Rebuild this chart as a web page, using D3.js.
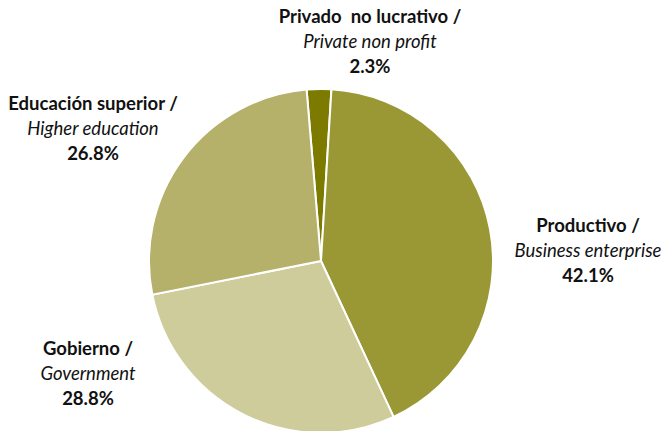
<!DOCTYPE html>
<html>
<head>
<meta charset="utf-8">
<script src="https://cdn.jsdelivr.net/npm/d3@7"></script>
<style>
  body { margin: 0; background: #fff; }
  .lbl { font-family: Lato, "Open Sans", sans-serif; font-size: 18.5px; fill: #111; }
</style>
</head>
<body>
<div id="chart"></div>
<script>
// data, clockwise from the top
var categories = ["Privado  no lucrativo /", "Productivo /", "Gobierno /", "Educación superior /"];
var subLabels = ["Private non profit", "Business enterprise", "Government", "Higher education"];
var values = [2.3, 42.1, 28.8, 26.8];
var colors = ["#7d7a00", "#9a9834", "#cfcc9b", "#b5b06a"];

var width = 665, height = 431;
var cx = 321, cy = 261, radius = 172;

var svg = d3.select("#chart").append("svg")
    .attr("width", width)
    .attr("height", height);

var g = svg.append("g")
    .attr("transform", "translate(" + cx + "," + cy + ")");

var startAngle = -values[0] / 100 * Math.PI * 2 * 0.58;

var pie = d3.pie()
    .sort(null)
    .startAngle(startAngle)
    .endAngle(startAngle + Math.PI * 2)
    .value(function(d){ return d; });

var arc = d3.arc()
    .innerRadius(0)
    .outerRadius(radius);

g.selectAll(".slice")
    .data(pie(values))
    .enter().append("path")
    .attr("class", "slice")
    .attr("d", arc)
    .style("fill", function(d, i){ return colors[i]; })
    .style("stroke", "#fff")
    .style("stroke-width", 2);

// label anchors (centre x, first baseline)
var labelPos = [[370, 23], [588, 232], [88, 355], [93, 110]];

var labels = svg.selectAll(".lbl")
    .data(values)
    .enter().append("text")
    .attr("class", "lbl")
    .attr("text-anchor", "middle")
    .attr("x", function(d, i){ return labelPos[i][0]; })
    .attr("y", function(d, i){ return labelPos[i][1]; });

labels.append("tspan")
    .attr("x", function(d, i){ return labelPos[i][0]; })
    .style("font-weight", "bold")
    .style("white-space", "pre")
    .text(function(d, i){ return categories[i]; });
labels.append("tspan")
    .attr("x", function(d, i){ return labelPos[i][0]; })
    .attr("dy", 25)
    .style("font-style", "italic")
    .text(function(d, i){ return subLabels[i]; });
labels.append("tspan")
    .attr("x", function(d, i){ return labelPos[i][0]; })
    .attr("dy", 25)
    .style("font-weight", "bold")
    .text(function(d){ return d.toFixed(1) + "%"; });
</script>
</body>
</html>
